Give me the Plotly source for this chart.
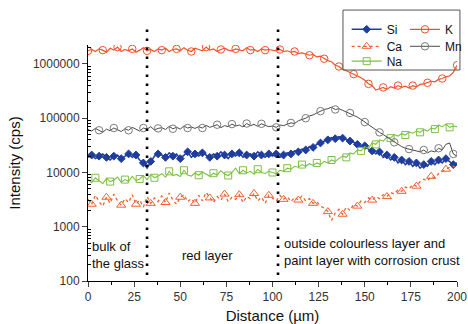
import plotly.graph_objects as go

distance = list(range(0, 201, 2))

K = [1750000, 1850000, 1700000, 1900000, 1800000, 1650000, 1950000, 1800000, 2050000, 1700000,
     1850000, 1750000, 1900000, 1650000, 1800000, 2000000, 1750000, 1850000, 1700000, 1900000,
     1800000, 1950000, 1700000, 1850000, 1900000, 1750000, 2000000, 1800000, 1700000, 1950000,
     1850000, 1750000, 2050000, 1800000, 1900000, 1700000, 1850000, 1950000, 1800000, 1750000,
     1900000, 1850000, 1750000, 2000000, 1800000, 1850000, 1700000, 1900000, 1800000, 1850000,
     1800000, 1750000, 1850000, 1700000, 1750000, 1650000, 1700000, 1550000, 1600000, 1500000,
     1450000, 1500000, 1350000, 1400000, 1250000, 1150000, 1100000, 950000, 900000, 800000,
     750000, 700000, 650000, 620000, 560000, 500000, 430000, 400000, 330000, 350000,
     370000, 340000, 380000, 360000, 400000, 370000, 390000, 360000, 400000, 380000,
     420000, 430000, 450000, 480000, 470000, 520000, 540000, 580000, 600000, 700000, 950000]

Mn = [62000, 58000, 65000, 60000, 55000, 63000, 59000, 66000, 61000, 57000,
      64000, 60000, 68000, 62000, 58000, 66000, 63000, 70000, 61000, 65000,
      67000, 62000, 71000, 64000, 68000, 63000, 72000, 66000, 69000, 65000,
      70000, 66000, 74000, 68000, 71000, 76000, 67000, 73000, 70000, 78000,
      72000, 75000, 69000, 80000, 73000, 77000, 71000, 79000, 74000, 70000,
      72000, 68000, 75000, 73000, 78000, 82000, 80000, 90000, 95000, 100000,
      110000, 115000, 125000, 135000, 145000, 150000, 160000, 145000, 150000, 140000,
      130000, 125000, 115000, 105000, 95000, 85000, 75000, 68000, 60000, 55000,
      50000, 45000, 40000, 36000, 33000, 30000, 28000, 27000, 26000, 25000,
      24000, 26000, 23000, 25000, 24000, 28000, 26000, 33000, 35000, 22000, 20000]

Si = [19000, 21000, 18000, 20000, 22000, 19000, 17000, 20000, 21000, 18000,
      20000, 22000, 19000, 21000, 17000, 15000, 12000, 16000, 20000, 22000,
      21000, 19000, 23000, 20000, 22000, 18000, 21000, 24000, 19000, 22000,
      20000, 23000, 21000, 19000, 22000, 20000, 24000, 21000, 18000, 22000,
      20000, 23000, 19000, 21000, 22000, 20000, 24000, 21000, 19000, 22000,
      20000, 22000, 19000, 21000, 23000, 22000, 25000, 24000, 27000, 26000,
      30000, 29000, 33000, 35000, 38000, 40000, 44000, 42000, 46000, 43000,
      41000, 38000, 36000, 33000, 30000, 31000, 27000, 25000, 22000, 24000,
      19000, 21000, 17000, 19000, 15000, 17000, 14000, 16000, 13000, 15000,
      12000, 14000, 13000, 16000, 14000, 17000, 15000, 18000, 16000, 14000, 15000]

Na = [7500, 6500, 8000, 7000, 6200, 7800, 6800, 7200, 8200, 6600,
      7400, 6900, 8500, 7100, 7600, 8800, 7300, 9200, 8000, 8600,
      9500, 8200, 10500, 8800, 9200, 8400, 11000, 9000, 8600, 9800,
      8900, 10200, 9300, 8500, 9700, 9000, 10800, 9400, 8800, 10000,
      12000, 9500, 11000, 9800, 10500, 9300, 11500, 10000, 9600, 10500,
      10000, 9500, 11000, 10500, 12000, 11500, 13000, 12500, 14000, 13000,
      14500, 13500, 15000, 14000, 16000, 15000, 17000, 16000, 18000, 20000,
      19000, 23000, 22000, 26000, 25000, 30000, 28000, 35000, 33000, 40000,
      38000, 45000, 43000, 50000, 47000, 52000, 49000, 56000, 53000, 58000,
      55000, 62000, 58000, 66000, 63000, 75000, 70000, 78000, 68000, 72000, 70000]

Ca = [3200, 2600, 3800, 2900, 2400, 3500, 2700, 4000, 3000, 2500,
      3300, 2800, 3900, 2600, 3100, 2300, 3600, 2700, 3400, 2900,
      3700, 2800, 4200, 3100, 2600, 3500, 3900, 2900, 3300, 2700,
      3800, 3000, 4300, 3400, 2800, 3600, 3100, 4000, 2900, 3500,
      3200, 3900, 2800, 3600, 3300, 4100, 3000, 3500, 2700, 3800,
      3400, 3000, 3800, 3200, 3600, 2900, 3500, 3100, 3700, 3000,
      3300, 2700, 2900, 2400, 2200, 1900, 1300, 1800, 2100, 1700,
      2300, 2000, 2600, 2400, 3000, 2800, 3400, 3100, 3600, 3300,
      3900, 3600, 4300, 4000, 4800, 4500, 5400, 5000, 6000, 5600,
      6800, 7500, 7000, 8500, 8000, 9500, 10500, 11500, 12500, 13000, 12000]

y_ticks = [100, 1000, 10000, 100000, 1000000]
y_minor = [m * 10 ** e for e in range(2, 7) for m in range(2, 10)]
x_ticks = [0, 25, 50, 75, 100, 125, 150, 175, 200]
boundaries = [32, 103]

series = [
    # name, data, line color, dash, line width, marker symbol, marker color, size, step, offset, legend, lx, ly
    ("Si", Si, "#1f3d9c", "solid", 1.5, "diamond", "#1f3d9c", 6, 2, 1, "legend", 0.701, 1.128),
    ("Ca", Ca, "#f0602e", "dot", 1.3, "triangle-up-open", "#f0602e", 8, 4, 1, "legend3", 0.701, 1.056),
    ("Na", Na, "#7cc142", "solid", 1.1, "square-open", "#7cc142", 7, 4, 2, "legend5", 0.701, 0.993),
    ("K", K, "#f0522a", "solid", 1.2, "circle-open", "#f0522a", 7.5, 4, 0, "legend2", 0.859, 1.128),
    ("Mn", Mn, "#4a4a4a", "solid", 1.0, "circle-open", "#7a7a7a", 7.5, 4, 3, "legend4", 0.859, 1.056),
]

legend_common = dict(bgcolor="rgba(0,0,0,0)", borderwidth=0, orientation="v",
                     font=dict(family="Arial, Liberation Sans, sans-serif", size=12, color="#111111"),
                     xanchor="left", yanchor="top", tracegroupgap=0, itemwidth=30)

fig = go.Figure()
legend_layout = {}
for name, ys, lc, dash, lw, sym, mc, ms, step, off, lg, lx, ly in series:
    fig.add_trace(go.Scatter(x=distance, y=ys, mode="lines", line=dict(color=lc, width=lw, dash=dash),
                             showlegend=False, hoverinfo="skip"))
    fig.add_trace(go.Scatter(x=distance[off::step], y=ys[off::step], mode="markers",
                             marker=dict(symbol=sym, color=mc, size=ms, line=dict(color=mc, width=1)),
                             showlegend=False, name=name))
    fig.add_trace(go.Scatter(x=[None], y=[None], mode="lines+markers", name=name,
                             line=dict(color=lc, width=lw, dash=dash),
                             marker=dict(symbol=sym, color=mc, size=ms, line=dict(color=mc, width=1)),
                             legend=lg))
    legend_layout[lg] = dict(x=lx, y=ly, **legend_common)

for b in boundaries:
    fig.add_shape(type="line", xref="x", yref="paper", x0=b, x1=b, y0=0.025, y1=1.072,
                  line=dict(color="black", width=2.6, dash="2.6px,6.4px"))

fig.add_shape(type="rect", xref="paper", yref="paper", x0=0.691, x1=1.008, y0=0.894, y1=1.148,
              line=dict(color="#555555", width=1), fillcolor="rgba(255,255,255,0)")

ann_font = dict(family="Arial, Liberation Sans, sans-serif", size=13, color="#111111")
fig.add_annotation(x=1, y=0.112, xref="x", yref="paper", text="bulk of<br>the glass", showarrow=False,
                   xanchor="left", yanchor="middle", align="left", font=ann_font)
fig.add_annotation(x=65, y=0.106, xref="x", yref="paper", text="red layer", showarrow=False,
                   xanchor="center", yanchor="middle", font=ann_font)
fig.add_annotation(x=105, y=0.121, xref="x", yref="paper",
                   text="outside colourless layer and<br>paint layer with corrosion crust",
                   showarrow=False, xanchor="left", yanchor="middle", align="left", font=ann_font)

fig.update_layout(
    width=468, height=324,
    margin=dict(l=88, r=11, t=45, b=43, autoexpand=False),
    paper_bgcolor="white", plot_bgcolor="white",
    font=dict(family="Arial, Liberation Sans, sans-serif", size=12, color="#111111"),
    xaxis=dict(range=[0, 200], tickvals=x_ticks, ticks="outside", ticklen=5, tickwidth=1,
               showline=True, linecolor="black", linewidth=1, showgrid=False, zeroline=False,
               minor=dict(dtick=12.5, ticks="outside", ticklen=3, tickcolor="black"),
               title=dict(text="Distance (µm)", font=dict(size=15), standoff=9),
               tickfont=dict(size=12, color="#333333")),
    yaxis=dict(type="log", range=[2, 6.35], tickvals=y_ticks, ticktext=[str(v) for v in y_ticks],
               ticks="outside", ticklen=5, tickwidth=1,
               showline=True, linecolor="black", linewidth=1, showgrid=False, zeroline=False,
               minor=dict(tickvals=y_minor, ticks="inside", ticklen=3, tickcolor="black", showgrid=False),
               title=dict(text="Intensity (cps)", font=dict(size=15), standoff=8),
               tickfont=dict(size=12, color="#333333")),
    **legend_layout,
)

fig.write_html("out.html")
